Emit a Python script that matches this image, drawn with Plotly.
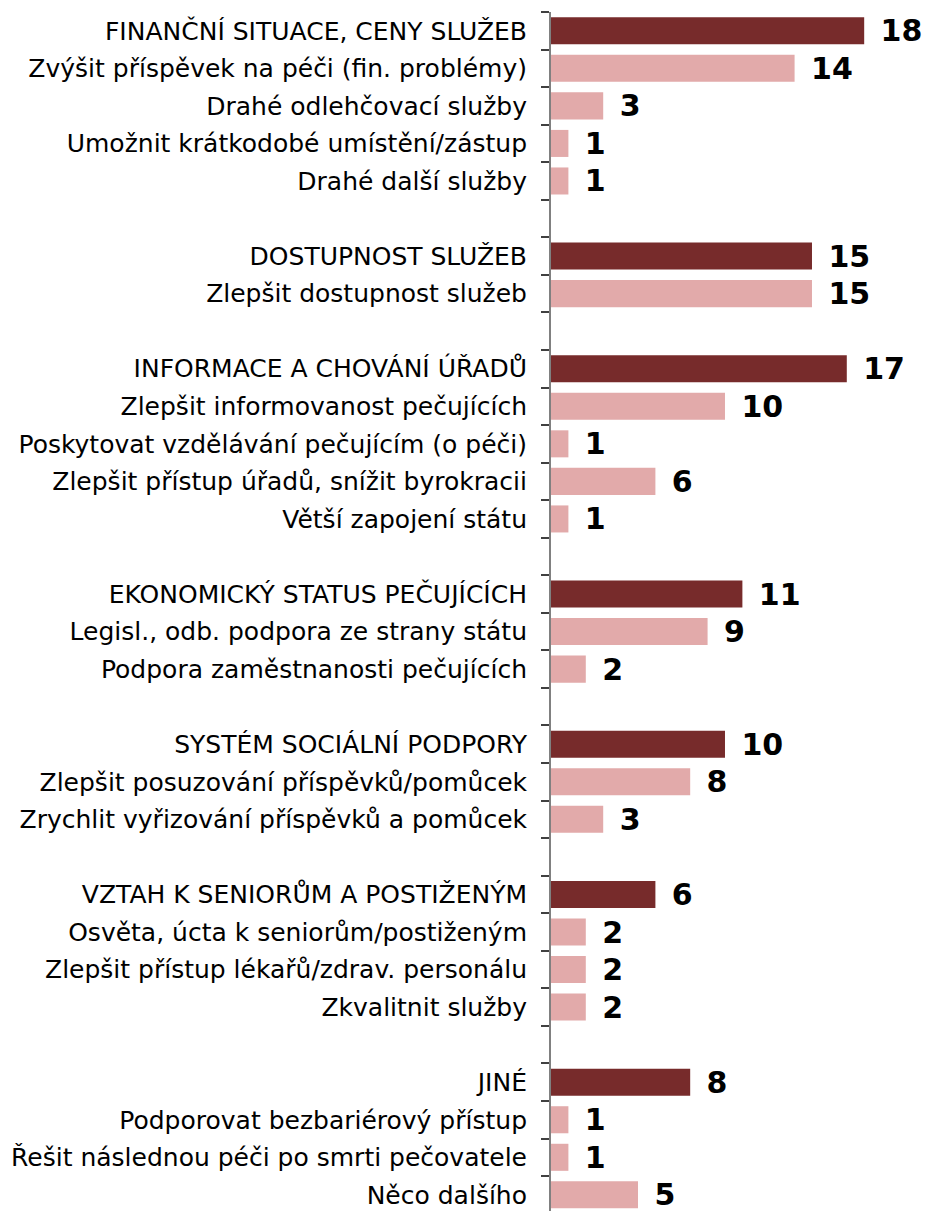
import plotly.graph_objects as go

# Group headers and their totals
group_titles = [
    "FINANČNÍ SITUACE, CENY SLUŽEB",
    "DOSTUPNOST SLUŽEB",
    "INFORMACE A CHOVÁNÍ ÚŘADŮ",
    "EKONOMICKÝ STATUS PEČUJÍCÍCH",
    "SYSTÉM SOCIÁLNÍ PODPORY",
    "VZTAH K SENIORŮM A POSTIŽENÝM",
    "JINÉ",
]
group_values = [18, 15, 17, 11, 10, 6, 8]

# Detailed items within each group
item_labels = [
    ["Zvýšit příspěvek na péči (fin. problémy)", "Drahé odlehčovací služby",
     "Umožnit krátkodobé umístění/zástup", "Drahé další služby"],
    ["Zlepšit dostupnost služeb"],
    ["Zlepšit informovanost pečujících", "Poskytovat vzdělávání pečujícím (o péči)",
     "Zlepšit přístup úřadů, snížit byrokracii", "Větší zapojení státu"],
    ["Legisl., odb. podpora ze strany státu", "Podpora zaměstnanosti pečujících"],
    ["Zlepšit posuzování příspěvků/pomůcek", "Zrychlit vyřizování příspěvků a pomůcek"],
    ["Osvěta, úcta k seniorům/postiženým", "Zlepšit přístup lékařů/zdrav. personálu",
     "Zkvalitnit služby"],
    ["Podporovat bezbariérový přístup", "Řešit následnou péči po smrti pečovatele",
     "Něco dalšího"],
]
item_values = [
    [14, 3, 1, 1],
    [15],
    [10, 1, 6, 1],
    [9, 2],
    [8, 3],
    [2, 2, 2],
    [1, 1, 5],
]

DARK = "#772b2b"
LIGHT = "#e2aaaa"

# Lay out rows: header, items, then an empty spacer row between groups
rows_y, rows_x, rows_label, rows_color = [], [], [], []
row = 0
for g, title in enumerate(group_titles):
    rows_y.append(row); rows_x.append(group_values[g]); rows_label.append(title); rows_color.append(DARK)
    row += 1
    for lab, val in zip(item_labels[g], item_values[g]):
        rows_y.append(row); rows_x.append(val); rows_label.append(lab); rows_color.append(LIGHT)
        row += 1
    row += 1  # spacer

fig = go.Figure(go.Bar(
    x=rows_x,
    y=rows_y,
    orientation="h",
    marker=dict(color=rows_color, line=dict(width=0)),
    width=0.72,
    text=["\u00a0\u200a" + str(v) for v in rows_x],
    textposition="outside",
    constraintext="none",
    textfont=dict(family="DejaVu Sans", size=30, color="black", weight="bold"),
    cliponaxis=False,
    hoverinfo="skip",
))

fig.update_layout(
    width=931,
    height=1211,
    margin=dict(l=551, r=0, t=12, b=0),
    plot_bgcolor="white",
    paper_bgcolor="white",
    showlegend=False,
    font=dict(family="DejaVu Sans", size=25, color="black"),
    xaxis=dict(
        range=[0, 21.84],
        visible=False,
        showgrid=False,
        zeroline=False,
    ),
    yaxis=dict(
        range=[31.43, -0.5],
        tickmode="array",
        tickvals=rows_y,
        ticktext=rows_label,
        ticks="",
        showgrid=False,
        zeroline=False,
        showline=True,
        linecolor="#808080",
        linewidth=2,
        ticklabelstandoff=17,
        ticklabeloverflow="allow",
        tickfont=dict(family="DejaVu Sans", size=25, color="black"),
        minor=dict(
            ticks="outside",
            tick0=-0.5,
            dtick=1,
            ticklen=8,
            tickwidth=1.5,
            tickcolor="#404040",
            showgrid=False,
        ),
    ),
)

fig.write_html("out.html")
